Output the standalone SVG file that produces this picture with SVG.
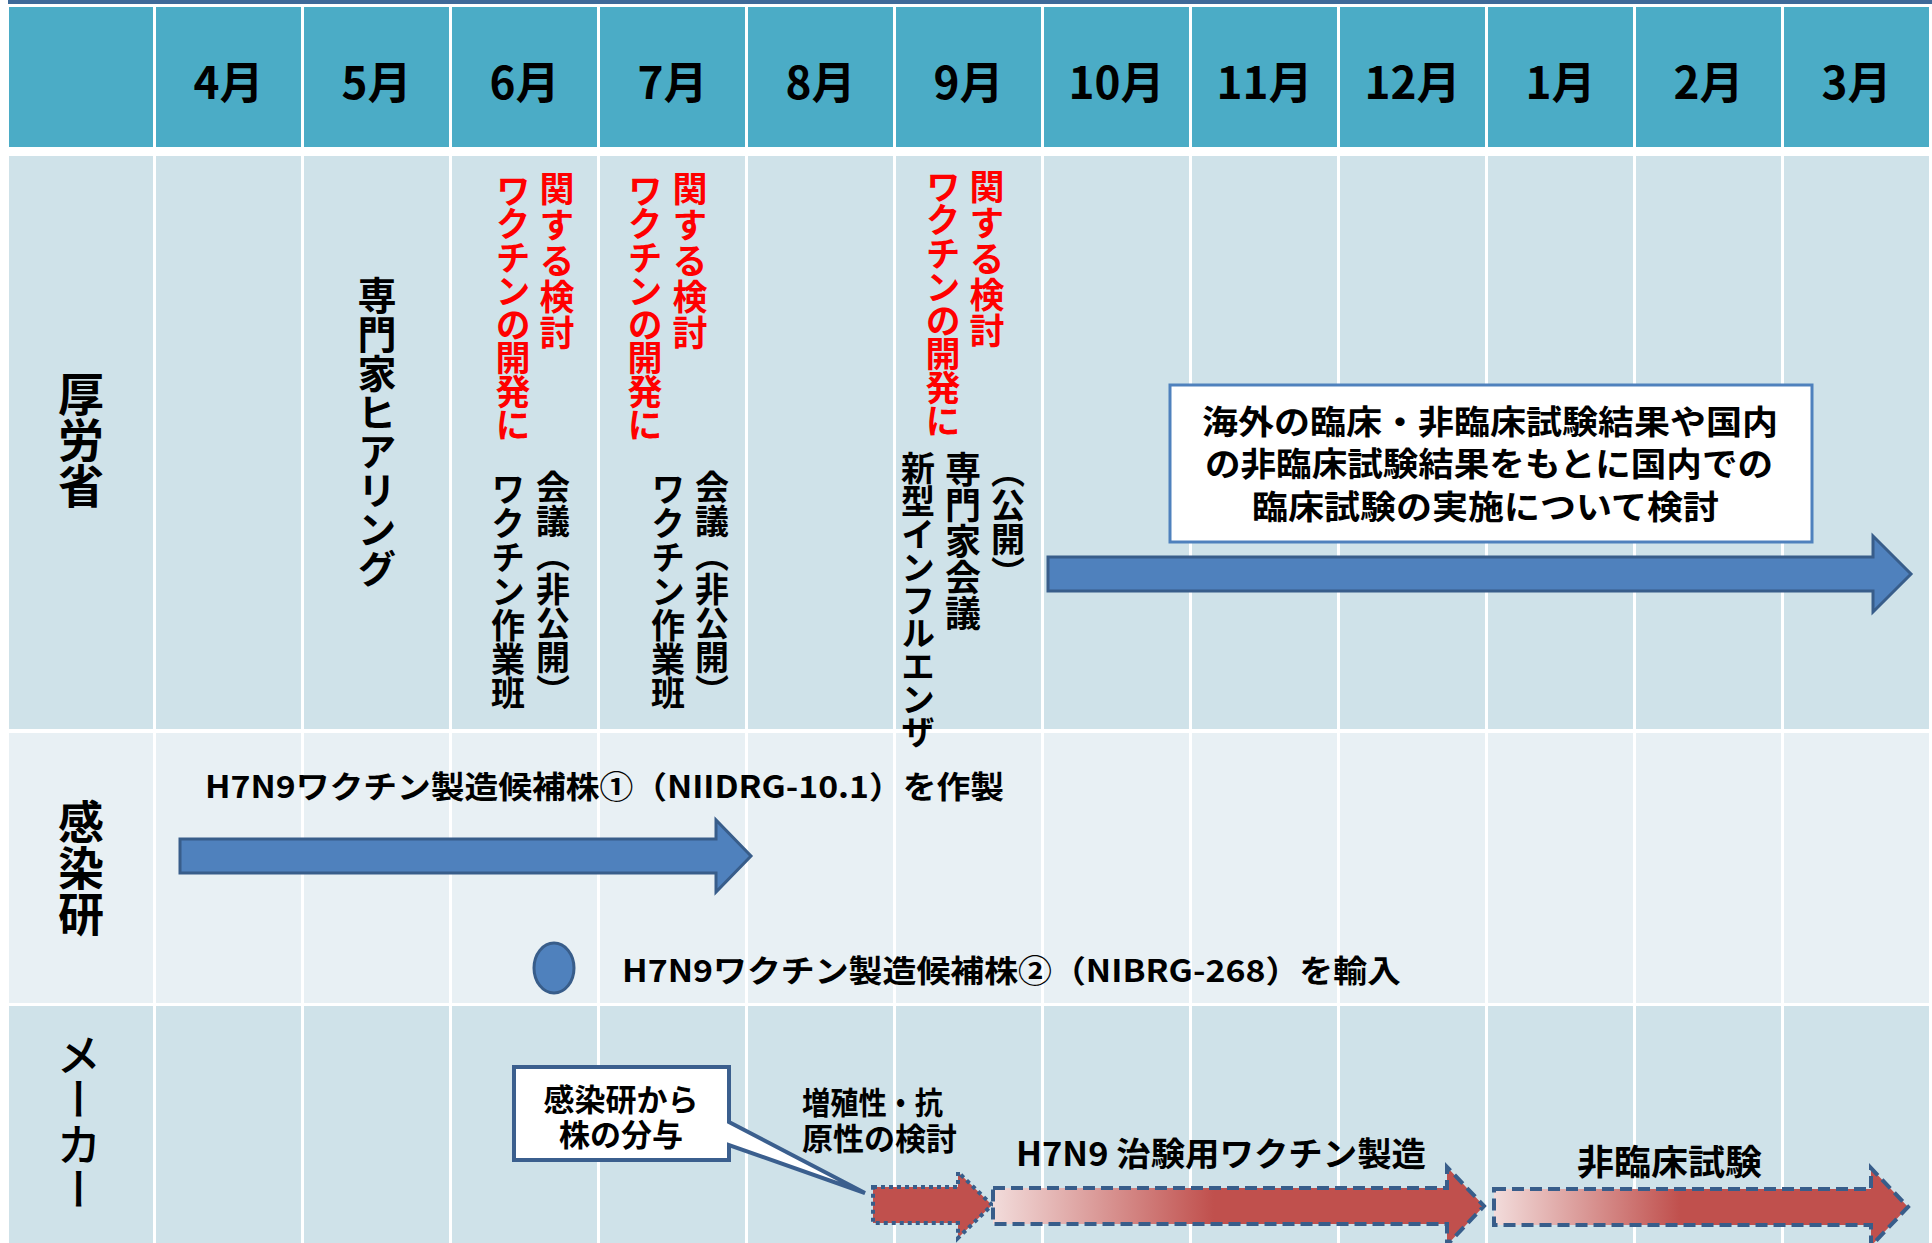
<svg xmlns="http://www.w3.org/2000/svg" width="1932" height="1243" viewBox="0 0 1932 1243">
<defs>
<style>
text{font-family:'Noto Sans CJK JP','Noto Sans',sans-serif;fill:#000;}
.hd{fill:#4BACC6;}
.ra{fill:#CFE2E9;}
.rb{fill:#E8F0F4;}
.mon{font-size:44px;font-weight:bold;text-anchor:middle;dominant-baseline:central;}
.vt{writing-mode:vertical-rl;font-weight:bold;}
.red{fill:#FF0000;font-size:35px;letter-spacing:-1.5px;}
.blk{font-size:34px;}
.lbl{font-size:46px;}
.ht{font-weight:bold;dominant-baseline:central;}
.blue{fill:#4F81BD;stroke:#385D8A;stroke-width:3;}
.redarr{stroke:#385D8A;stroke-width:4;}
</style>
<linearGradient id="grad" x1="0" y1="0" x2="1" y2="0">
<stop offset="0" stop-color="#F2DCDB"/>
<stop offset="0.45" stop-color="#C0504D"/>
<stop offset="1" stop-color="#C0504D"/>
</linearGradient>
</defs>
<rect x="0" y="0" width="1932" height="1243" fill="#FFFFFF"/>
<rect x="8" y="0" width="1924" height="4" fill="#3F6A99"/>
<g id="grid">
<rect class="hd" x="9" y="7" width="144" height="140"/>
<rect class="ra" x="9" y="156" width="144" height="573"/>
<rect class="rb" x="9" y="733" width="144" height="270"/>
<rect class="ra" x="9" y="1006" width="144" height="237"/>
<rect class="hd" x="156" y="7" width="145" height="140"/><rect class="ra" x="156" y="156" width="145" height="573"/><rect class="rb" x="156" y="733" width="145" height="270"/><rect class="ra" x="156" y="1006" width="145" height="237"/>
<rect class="hd" x="304" y="7" width="145" height="140"/><rect class="ra" x="304" y="156" width="145" height="573"/><rect class="rb" x="304" y="733" width="145" height="270"/><rect class="ra" x="304" y="1006" width="145" height="237"/>
<rect class="hd" x="452" y="7" width="145" height="140"/><rect class="ra" x="452" y="156" width="145" height="573"/><rect class="rb" x="452" y="733" width="145" height="270"/><rect class="ra" x="452" y="1006" width="145" height="237"/>
<rect class="hd" x="600" y="7" width="145" height="140"/><rect class="ra" x="600" y="156" width="145" height="573"/><rect class="rb" x="600" y="733" width="145" height="270"/><rect class="ra" x="600" y="1006" width="145" height="237"/>
<rect class="hd" x="748" y="7" width="145" height="140"/><rect class="ra" x="748" y="156" width="145" height="573"/><rect class="rb" x="748" y="733" width="145" height="270"/><rect class="ra" x="748" y="1006" width="145" height="237"/>
<rect class="hd" x="896" y="7" width="145" height="140"/><rect class="ra" x="896" y="156" width="145" height="573"/><rect class="rb" x="896" y="733" width="145" height="270"/><rect class="ra" x="896" y="1006" width="145" height="237"/>
<rect class="hd" x="1044" y="7" width="145" height="140"/><rect class="ra" x="1044" y="156" width="145" height="573"/><rect class="rb" x="1044" y="733" width="145" height="270"/><rect class="ra" x="1044" y="1006" width="145" height="237"/>
<rect class="hd" x="1192" y="7" width="145" height="140"/><rect class="ra" x="1192" y="156" width="145" height="573"/><rect class="rb" x="1192" y="733" width="145" height="270"/><rect class="ra" x="1192" y="1006" width="145" height="237"/>
<rect class="hd" x="1340" y="7" width="145" height="140"/><rect class="ra" x="1340" y="156" width="145" height="573"/><rect class="rb" x="1340" y="733" width="145" height="270"/><rect class="ra" x="1340" y="1006" width="145" height="237"/>
<rect class="hd" x="1488" y="7" width="145" height="140"/><rect class="ra" x="1488" y="156" width="145" height="573"/><rect class="rb" x="1488" y="733" width="145" height="270"/><rect class="ra" x="1488" y="1006" width="145" height="237"/>
<rect class="hd" x="1636" y="7" width="145" height="140"/><rect class="ra" x="1636" y="156" width="145" height="573"/><rect class="rb" x="1636" y="733" width="145" height="270"/><rect class="ra" x="1636" y="1006" width="145" height="237"/>
<rect class="hd" x="1784" y="7" width="145" height="140"/><rect class="ra" x="1784" y="156" width="145" height="573"/><rect class="rb" x="1784" y="733" width="145" height="270"/><rect class="ra" x="1784" y="1006" width="145" height="237"/>
</g>
<g id="months">
<text class="mon" x="228.5" y="80">4月</text>
<text class="mon" x="376.5" y="80">5月</text>
<text class="mon" x="524.5" y="80">6月</text>
<text class="mon" x="672.5" y="80">7月</text>
<text class="mon" x="820.5" y="80">8月</text>
<text class="mon" x="968.5" y="80">9月</text>
<text class="mon" x="1116.5" y="80">10月</text>
<text class="mon" x="1264.5" y="80">11月</text>
<text class="mon" x="1412.5" y="80">12月</text>
<text class="mon" x="1560.5" y="80">1月</text>
<text class="mon" x="1708.5" y="80">2月</text>
<text class="mon" x="1856.5" y="80">3月</text>
</g>
<g id="row-labels">
<text class="vt lbl" x="81" y="371">厚労省</text>
<text class="vt lbl" x="81" y="799">感染研</text>
<text class="vt" x="79" y="1032" style="font-size:45px;font-weight:500">メーカー</text>
</g>
<g id="hearing">
<text class="vt" x="377" y="276" style="font-size:39px">専門家ヒアリング</text>
</g>
<g id="june-meeting">
<text class="vt red" x="513" y="173">ワクチンの開発に</text>
<text class="vt red" x="557" y="171" style="letter-spacing:1px">関する検討</text>
<text class="vt blk" x="508" y="472">ワクチン作業班</text>
<text class="vt blk" x="553" y="470">会議（非公開）</text>
</g>
<g id="july-meeting">
<text class="vt red" x="645" y="173">ワクチンの開発に</text>
<text class="vt red" x="690" y="171" style="letter-spacing:1px">関する検討</text>
<text class="vt blk" x="668" y="472">ワクチン作業班</text>
<text class="vt blk" x="712" y="470">会議（非公開）</text>
</g>
<g id="sept-meeting">
<text class="vt red" x="943" y="169">ワクチンの開発に</text>
<text class="vt red" x="987" y="169" style="letter-spacing:1px">関する検討</text>
<text class="vt blk" x="918" y="451" style="letter-spacing:-1px">新型インフルエンザ</text>
<text class="vt blk" x="963" y="451" style="font-size:36px">専門家会議</text>
<text class="vt blk" x="1008" y="454">（公開）</text>
</g>
<g id="connectors">
<polygon id="arrow-mhlw" class="blue" points="1048,557 1873,557 1873,536 1911,574 1873,612 1873,591 1048,591"/>
<polygon id="arrow-niid" class="blue" points="180,839 716,839 716,820 751,856 716,892 716,873 180,873"/>
<polygon id="arrow-test" class="redarr" fill="#C0504D" stroke-dasharray="4 4" points="873,1187 958,1187 958,1172 992,1205 958,1238 958,1223 873,1223"/>
<polygon id="arrow-make" class="redarr" fill="url(#grad)" stroke-dasharray="12 6" points="993,1188 1447,1188 1447,1167 1484,1206 1447,1245 1447,1224 993,1224"/>
<polygon id="arrow-nonclin" class="redarr" fill="url(#grad)" stroke-dasharray="12 6" points="1494,1189 1871,1189 1871,1168 1908,1207 1871,1246 1871,1225 1494,1225"/>
</g>
<g id="review-box">
<rect x="1170" y="385" width="642" height="157" fill="#FFFFFF" stroke="#4F81BD" stroke-width="3"/>
<text class="ht" x="1202" y="420" font-size="33" textLength="576" lengthAdjust="spacingAndGlyphs">海外の臨床・非臨床試験結果や国内</text>
<text class="ht" x="1205" y="462" font-size="33" textLength="568" lengthAdjust="spacingAndGlyphs">の非臨床試験結果をもとに国内での</text>
<text class="ht" x="1252" y="505" font-size="33" textLength="467" lengthAdjust="spacingAndGlyphs">臨床試験の実施について検討</text>
</g>
<g id="strain1">
<text class="ht" x="205" y="784" font-size="31" textLength="799" lengthAdjust="spacingAndGlyphs">H7N9ワクチン製造候補株①（NIIDRG-10.1）を作製</text>
</g>
<g id="strain2">
<ellipse cx="554" cy="968" rx="20" ry="25" class="blue"/>
<text class="ht" x="622" y="968" font-size="31" textLength="779" lengthAdjust="spacingAndGlyphs">H7N9ワクチン製造候補株②（NIBRG-268）を輸入</text>
</g>
<g id="callout">
<path d="M514,1067 H729 V1122 L865,1193 L729,1145 V1160 H514 Z" fill="#FFFFFF" stroke="#3B5F8E" stroke-width="4" stroke-linejoin="miter"/>
<text class="ht" x="621" y="1097" font-size="31" text-anchor="middle">感染研から</text>
<text class="ht" x="621" y="1132" font-size="31" text-anchor="middle">株の分与</text>
</g>
<g id="potency">
<text class="ht" x="802" y="1100" font-size="31" textLength="141" lengthAdjust="spacingAndGlyphs">増殖性・抗</text>
<text class="ht" x="802" y="1136" font-size="31">原性の検討</text>
</g>
<g id="manufacture">
<text class="ht" x="1016" y="1152" font-size="33" textLength="410" lengthAdjust="spacingAndGlyphs">H7N9 治験用ワクチン製造</text>
</g>
<g id="nonclinical">
<text class="ht" x="1577" y="1159" font-size="35" textLength="185" lengthAdjust="spacingAndGlyphs">非臨床試験</text>
</g>
</svg>
